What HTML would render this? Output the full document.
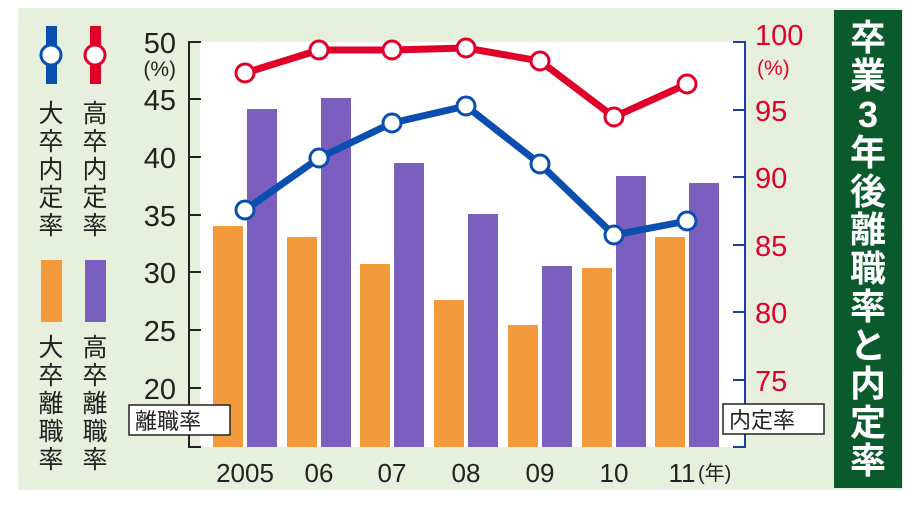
<!DOCTYPE html>
<html><head><meta charset="utf-8"><style>
body{margin:0;background:#fff;}
svg text{font-family:"Liberation Sans","Noto Sans CJK JP",sans-serif;}
</style></head><body>
<svg width="914" height="500" viewBox="0 0 914 500" xmlns="http://www.w3.org/2000/svg">
<rect x="18" y="8" width="885" height="482" fill="#e6f0dc"/>
<rect x="200" y="42" width="545" height="405" fill="#fff"/>
<g fill="#f39a3c">
<rect x="213" y="226" width="30" height="221"/>
<rect x="287" y="237" width="30" height="210"/>
<rect x="360" y="264" width="30" height="183"/>
<rect x="434" y="300" width="30" height="147"/>
<rect x="508" y="325" width="30" height="122"/>
<rect x="582" y="268" width="30" height="179"/>
<rect x="655" y="237" width="30" height="210"/>
</g>
<g fill="#7a5fbf">
<rect x="247" y="109" width="30" height="338"/>
<rect x="321" y="98" width="30" height="349"/>
<rect x="394" y="163" width="30" height="284"/>
<rect x="468" y="214" width="30" height="233"/>
<rect x="542" y="266" width="30" height="181"/>
<rect x="616" y="176" width="30" height="271"/>
<rect x="689" y="183" width="30" height="264"/>
</g>
<g stroke="#222" stroke-width="2" fill="none">
<path d="M201 42H189V447H201"/>
<path d="M189 99H201M189 157H201M189 215H201M189 272H201M189 330H201M189 388H201"/>
</g>
<g font-size="29" fill="#222" text-anchor="end">
<text x="176" y="53">50</text>
<text x="176" y="110">45</text>
<text x="176" y="168">40</text>
<text x="176" y="226">35</text>
<text x="176" y="283">30</text>
<text x="176" y="341">25</text>
<text x="176" y="399">20</text>
</g>
<text x="176" y="76" font-size="21" text-anchor="end" fill="#222">(%)</text>
<rect x="129" y="405" width="101" height="30" fill="#fff" stroke="#222" stroke-width="1.5"/>
<text x="135" y="429" font-size="22" fill="#222">離職率</text>
<g stroke="#1a3fa0" stroke-width="2" fill="none">
<path d="M733 42H745V447H733"/>
<path d="M733 110H745M733 177H745M733 245H745M733 312H745M733 380H745"/>
</g>
<g font-size="29" fill="#e0002a">
<text x="755" y="45">100</text>
<text x="755" y="121">95</text>
<text x="755" y="188">90</text>
<text x="755" y="256">85</text>
<text x="755" y="323">80</text>
<text x="755" y="391">75</text>
</g>
<text x="757" y="75" font-size="21" fill="#e0002a">(%)</text>
<rect x="723" y="404" width="101" height="30" fill="#fff" stroke="#222" stroke-width="1.5"/>
<text x="729" y="428" font-size="22" fill="#222">内定率</text>
<polyline points="245,73 319,50 392,50 466,48 540,61 614,117 687,84" fill="none" stroke="#e0002a" stroke-width="7"/>
<g fill="#fff" stroke="#e0002a" stroke-width="3">
<circle cx="245" cy="73" r="9"/><circle cx="319" cy="50" r="9"/><circle cx="392" cy="50" r="9"/><circle cx="466" cy="48" r="9"/><circle cx="540" cy="61" r="9"/><circle cx="614" cy="117" r="9"/><circle cx="687" cy="84" r="9"/>
</g>
<polyline points="245,210 319,158 392,123 466,106 540,164 614,235 687,221" fill="none" stroke="#0a4fb0" stroke-width="7"/>
<g fill="#fff" stroke="#0a4fb0" stroke-width="3">
<circle cx="245" cy="210" r="9"/><circle cx="319" cy="158" r="9"/><circle cx="392" cy="123" r="9"/><circle cx="466" cy="106" r="9"/><circle cx="540" cy="164" r="9"/><circle cx="614" cy="235" r="9"/><circle cx="687" cy="221" r="9"/>
</g>
<g font-size="26" fill="#222" text-anchor="middle">
<text x="245" y="482">2005</text><text x="319" y="482">06</text><text x="392" y="482">07</text><text x="466" y="482">08</text><text x="540" y="482">09</text><text x="614" y="482">10</text><text x="682" y="482">11</text>
</g>
<text x="698" y="480" font-size="20" fill="#222">(年)</text>
<rect x="46" y="26" width="11" height="58" fill="#0a4fb0"/>
<circle cx="51" cy="55" r="10" fill="#fff" stroke="#0a4fb0" stroke-width="3"/>
<rect x="90" y="26" width="11" height="58" fill="#e0002a"/>
<circle cx="95" cy="55" r="10" fill="#fff" stroke="#e0002a" stroke-width="3"/>
<g font-size="25" fill="#222" text-anchor="middle">
<text x="51" y="122">大</text><text x="51" y="150">卒</text><text x="51" y="178">内</text><text x="51" y="206">定</text><text x="51" y="234">率</text>
<text x="95" y="122">高</text><text x="95" y="150">卒</text><text x="95" y="178">内</text><text x="95" y="206">定</text><text x="95" y="234">率</text>
</g>
<rect x="41" y="260" width="21" height="62" fill="#f39a3c"/>
<rect x="85" y="260" width="21" height="62" fill="#7a5fbf"/>
<g font-size="25" fill="#222" text-anchor="middle">
<text x="51" y="356">大</text><text x="51" y="384">卒</text><text x="51" y="412">離</text><text x="51" y="440">職</text><text x="51" y="468">率</text>
<text x="95" y="356">高</text><text x="95" y="384">卒</text><text x="95" y="412">離</text><text x="95" y="440">職</text><text x="95" y="468">率</text>
</g>
<rect x="834" y="10" width="68" height="478" fill="#0b5a2c"/>
<g font-size="36" font-weight="bold" fill="#fff" text-anchor="middle">
<text x="868" y="50">卒</text><text x="868" y="88">業</text><text x="868" y="127">3</text><text x="868" y="165">年</text><text x="868" y="204">後</text><text x="868" y="242">離</text><text x="868" y="281">職</text><text x="868" y="319">率</text><text x="868" y="358">と</text><text x="868" y="396">内</text><text x="868" y="435">定</text><text x="868" y="473">率</text>
</g>
</svg>
</body></html>
